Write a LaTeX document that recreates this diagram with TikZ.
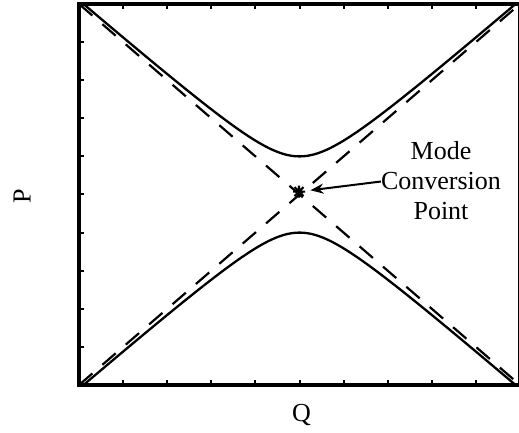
\documentclass[tikz,border=0pt]{standalone}
\usepackage{fontspec}
\setmainfont{Liberation Serif}
\usetikzlibrary{arrows.meta,calc}
\begin{document}
\begin{tikzpicture}[x=1pt,y=1pt,
  axis/.style={line width=3.4pt},
  tickmark/.style={line width=2pt},
  curve/.style={line width=2.3pt},
  asym/.style={line width=2.2pt, dash pattern=on 17.6pt off 13.3pt},
  lbl/.style={font=\fontsize{26}{30}\selectfont, inner sep=0pt},
  pointer/.style={line width=2pt, -{Stealth[length=13pt,width=10pt]}}
]
\useasboundingbox (0,0) rectangle (519,433);
% corners
\coordinate (bl) at (79,48);
\coordinate (tr) at (520,429);
\coordinate (tl) at (79,429);
\coordinate (br) at (520,48);
\coordinate (c) at (299.5,238.5);
% asymptotes
\begin{scope}
\clip (bl) rectangle (tr);
\draw[asym] (tl) -- (br);
\draw[asym] (bl) -- (tr);
% hyperbola branches
\draw[curve] plot[domain=-1.02:1.02, samples=121, smooth] ({299.5+220.5*\x},{238.5+190.5*sqrt(\x*\x+0.04)});
\draw[curve] plot[domain=-1.02:1.02, samples=121, smooth] ({299.5+220.5*\x},{238.5-190.5*sqrt(\x*\x+0.04)});
\end{scope}
% ticks
\foreach \k in {1,...,9}{
  \draw[tickmark] ({79+44.1*\k},48) -- ++(0,5);
  \draw[tickmark] ({79+44.1*\k},429) -- ++(0,-5);
  \draw[tickmark] (79,{48+38.1*\k}) -- ++(5,0);
}
% frame
\draw[axis] (bl) rectangle (tr);
% asterisk
\coordinate (star) at (299,241.3);
\draw[line width=2.1pt] ($(star)+(-6,0)$) -- ($(star)+(6,0)$)
  ($(star)+(0,-6)$) -- ($(star)+(0,6)$)
  ($(star)+(-4.5,-4.5)$) -- ($(star)+(4.5,4.5)$)
  ($(star)+(-4.5,4.5)$) -- ($(star)+(4.5,-4.5)$);
% labels
\node[lbl, anchor=base] (mode) at (441,273.7) {Mode};
\node[lbl, anchor=base] (conv) at (441,243) {Conversion};
\node[lbl, anchor=base] (point) at (441,213.7) {Point};
\draw[pointer, shorten >=11.5pt] (conv.west) -- (star);
\node[lbl, anchor=base] (qlab) at (301.5,11) {Q};
\node[lbl, anchor=base, rotate=90] (plab) at (30.5,237) {P};
\end{tikzpicture}
\end{document}
